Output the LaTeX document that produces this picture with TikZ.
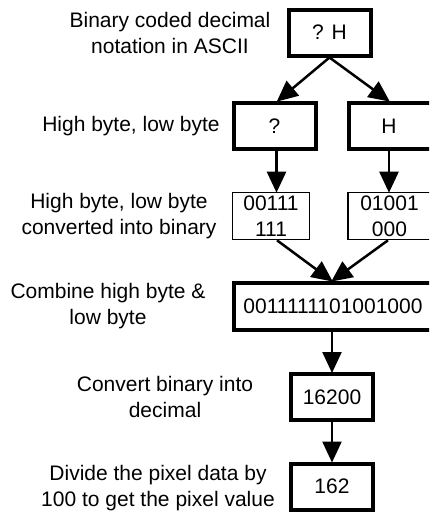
\documentclass[tikz,border=0pt]{standalone}
\usepackage{fontspec}
\setmainfont{Liberation Sans}
\usetikzlibrary{arrows.meta}
\tikzset{
  thickbox/.style={draw, line width=4pt, inner sep=0pt, minimum width=82pt, minimum height=46pt, align=center},
  thinbox/.style={draw, line width=1.6pt, inner sep=0pt, minimum width=77pt, minimum height=47pt, align=center},
  lbl/.style={align=center, inner sep=0pt},
  conn/.style={line width=2.5pt, -{Triangle[width=19pt,length=21pt]}, shorten >=-1pt},
}
\begin{document}
\begin{tikzpicture}[x=1pt, y=-1pt, font=\fontsize{21}{26}\selectfont]
\useasboundingbox (0,0) rectangle (429,512);
\clip (0,0) rectangle (429,512);
% boxes
\node[thickbox] (top) at (329.5,32.5) {? H};
\node[thickbox] (q) at (274.5,126) {?};
\node[thickbox, minimum width=86pt] (h) at (392,126) {\kern-6pt H};
\node[thinbox] (b1) at (271,216) {00111\\111};
\node[thinbox, minimum width=86pt] (b2) at (391,216) {\kern-3pt 01001\\\kern-3pt 000};
\node[thickbox, minimum width=206pt, minimum height=47pt] (comb) at (337,306.5) {\kern-8pt 0011111101001000};
\node[thickbox] (dec) at (332,397) {16200};
\node[thickbox] (pix) at (332,486.5) {162};
% labels
\node[lbl] (l1) at (170,33) {Binary coded decimal\\notation in ASCII};
\node[lbl] (l2) at (131,126) {High byte, low byte};
\node[lbl] (l3) at (119,216) {High byte, low byte\\converted into binary};
\node[lbl] (l4) at (108,306) {Combine high byte \&\\low byte};
\node[lbl] (l5) at (165,397) {Convert binary into\\decimal};
\node[lbl] (l6) at (158,488) {Divide the pixel data by\\100 to get the pixel value};
% connectors
\coordinate (m) at (dec.north |- comb.north);
\draw[conn] (top.south) -- ([xshift=3pt]q.north);
\draw[conn] (top.south) -- ([xshift=-3pt]h.north);
\draw[conn] ([xshift=2pt]q.south) -- ([xshift=2pt]q.south |- b1.north);
\draw[conn] ([xshift=-3pt]h.south) -- ([xshift=-3pt]h.south |- b2.north);
\draw[conn] ([xshift=6pt]b1.south) -- (m);
\draw[conn] ([xshift=-3pt]b2.south) -- (m);
\draw[conn] (dec.north |- comb.south) -- (dec.north);
\draw[conn] (dec.south) -- (pix.north);
\end{tikzpicture}
\end{document}
